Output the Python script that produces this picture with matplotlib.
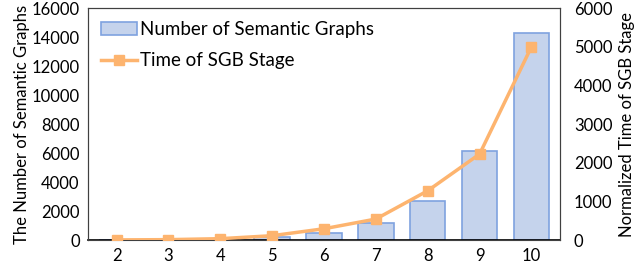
import matplotlib.pyplot as plt
import numpy as np

plt.rcParams['font.family'] = ['Lato', 'DejaVu Sans']

# data
lengths = ['2', '3', '4', '5', '6', '7', '8', '9', '10']
num_graphs = [5, 15, 50, 190, 500, 1150, 2670, 6160, 14250]
sgb_time = [3, 10, 35, 112, 292, 543, 1275, 2224, 5000]

x = np.arange(len(lengths))

fig = plt.figure(figsize=(6.4, 2.7), dpi=100)
ax = fig.add_axes([0.1375, 0.111, 0.7375, 0.859])

bars = ax.bar(x, num_graphs, width=0.68, color='#C5D3EC', edgecolor='#7FA2DF',
              linewidth=1.2, label='Number of Semantic Graphs', zorder=2)
ax.set_ylim(0, 16000)
ax.set_yticks(range(0, 16001, 2000))
ax.set_xlim(-0.55, len(lengths) - 0.45)
ax.set_xticks(x)
ax.set_xticklabels(lengths)
ax.set_ylabel('The Number of Semantic Graphs', fontsize=12, labelpad=1)
ax.tick_params(length=0, labelsize=12, pad=6)

ax2 = ax.twinx()
line, = ax2.plot(x, sgb_time, color='#FDB46F', linewidth=2.5, marker='s',
                 markersize=7, label='Time of SGB Stage', zorder=3)
ax2.set_ylim(0, 6000)
ax2.set_yticks(range(0, 6001, 1000))
ax2.set_ylabel('Normalized Time of SGB Stage', fontsize=12, labelpad=5)
ax2.tick_params(length=0, labelsize=12, pad=10)

for a in (ax, ax2):
    for s in a.spines.values():
        s.set_color('#404040')
        s.set_linewidth(0.8)
ax.spines['bottom'].set_color('black')
ax.spines['bottom'].set_linewidth(1.2)

ax.legend([bars, line], ['Number of Semantic Graphs', 'Time of SGB Stage'],
          loc='upper left', frameon=False, fontsize=13.5, handlelength=1.9,
          handletextpad=0.15, labelspacing=0.75, borderaxespad=0.3)

fig.savefig('out.png', dpi=100)
